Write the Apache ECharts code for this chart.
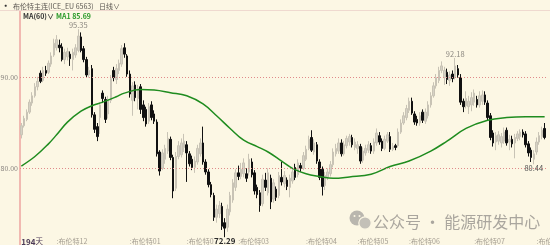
<!DOCTYPE html>
<html><head><meta charset="utf-8">
<script src="https://cdn.jsdelivr.net/npm/echarts@6/dist/echarts.min.js"></script>
<style>html,body{margin:0;padding:0;background:#fcf7e4}#c{width:550px;height:245px}</style>
</head><body><div id="c"></div>
<script>
const opens = [83.7,84.7,85.4,86.2,87.2,88.0,89.0,90.5,89.7,90.8,90.6,91.5,92.5,93.3,93.6,93.4,92.0,92.3,92.6,92.0,92.5,93.0,94.5,93.2,92.0,90.3,91.0,85.9,84.6,85.6,88.3,87.6,86.0,87.5,90.8,89.8,90.8,91.5,93.3,92.4,
90.4,87.5,89.2,87.7,89.0,87.0,86.5,85.2,87.0,86.0,85.1,81.8,80.0,81.0,81.9,83.2,81.2,77.8,81.3,81.5,82.3,82.6,81.6,81.0,80.1,80.7,81.6,82.8,80.7,79.6,
78.2,77.0,74.6,75.0,75.8,74.0,73.5,75.2,76.5,77.9,79.5,79.1,79.4,79.4,79.6,80.7,79.5,77.9,77.3,76.1,78.7,77.3,78.9,76.6,77.7,77.0,79.0,78.3,78.7,77.9,
78.6,80.1,79.3,80.3,80.0,81.0,82.2,83.4,81.8,82.6,80.7,79.9,78.1,79.0,79.4,80.4,81.6,81.9,82.8,81.6,82.5,82.9,83.4,82.3,82.2,82.4,80.9,81.7,82.0,82.5,
81.9,82.8,83.6,83.0,82.2,83.0,83.5,82.1,82.5,82.5,84.0,85.0,85.6,86.4,87.4,86.0,85.4,85.0,86.2,85.2,85.8,87.0,88.0,89.1,89.7,
90.8,90.0,90.6,89.7,90.4,90.1,91.0,90.0,87.4,86.9,86.8,87.0,87.3,87.6,87.0,87.4,88.1,87.2,85.8,83.9,82.9,83.0,82.8,83.0,84.2,82.9,83.2,82.8,83.3,83.5,
84.0,83.8,82.7,82.0,81.0,81.8,82.9,83.5,84.4];
const closes = [84.7,85.5,86.2,87.3,88.0,89.0,89.6,89.6,90.8,90.5,91.6,92.4,93.8,94.2,93.3,92.0,92.8,92.9,92.1,92.8,93.3,94.6,93.0,92.0,90.3,90.8,85.9,84.3,83.5,87.0,87.7,85.4,87.6,89.9,90.0,91.0,91.6,93.2,92.6,90.4,
88.2,89.1,87.8,88.8,86.5,85.6,84.9,86.8,85.6,85.2,81.6,79.7,81.7,82.2,83.3,81.2,77.5,81.3,82.5,82.8,83.0,81.7,80.5,80.1,80.8,82.2,82.8,80.7,79.6,78.2,
77.1,74.6,75.5,75.9,73.6,73.4,75.5,77.0,78.4,79.5,79.1,79.9,80.6,78.9,81.0,79.3,77.5,77.1,75.9,78.8,77.9,79.5,76.3,78.4,76.8,79.2,78.5,79.2,78.0,78.9,
79.6,79.0,80.6,80.0,81.4,82.1,83.2,82.0,82.8,80.8,79.0,78.0,79.2,79.6,80.4,81.8,82.2,82.8,81.6,82.6,83.3,83.5,82.6,82.9,82.6,80.8,81.9,82.2,82.6,81.9,
82.9,83.9,82.9,82.2,83.2,83.7,82.1,82.4,82.3,84.0,85.0,85.8,86.6,87.4,86.1,85.1,85.0,85.8,85.3,86.2,87.0,88.0,89.1,90.0,90.8,
91.3,90.8,89.8,90.3,89.9,91.3,90.3,87.3,86.8,87.7,87.4,87.8,88.3,87.0,88.0,88.1,87.3,85.6,83.4,82.8,83.6,83.7,83.5,84.0,82.8,83.2,82.7,83.4,83.8,84.0,
83.7,82.6,81.7,81.2,81.6,82.9,83.6,84.2,83.4];
const lows = [83.3,84.5,85.2,86.0,86.9,87.8,88.6,89.4,89.5,90.2,90.4,91.2,92.3,93.0,92.8,91.8,91.5,91.9,91.3,90.8,92.2,92.8,92.8,91.7,90.0,90.0,85.6,83.9,83.0,83.8,87.2,85.0,85.5,87.2,89.6,89.3,90.4,91.2,92.2,90.1,
87.8,85.8,87.4,86.5,86.0,85.2,84.6,84.9,85.3,84.9,81.3,79.2,79.8,80.5,81.6,80.9,76.7,77.5,81.0,81.2,81.8,78.5,80.2,79.8,79.5,80.4,81.3,80.4,79.3,77.9,
76.8,74.2,74.0,74.5,73.2,72.29,73.0,74.8,76.2,77.5,78.7,78.8,79.0,78.5,79.2,79.0,77.1,76.7,75.2,75.8,77.5,77.0,75.5,76.2,76.4,76.7,78.1,77.9,77.6,76.8,
78.3,78.7,79.0,79.6,79.8,80.8,82.0,81.8,81.5,80.5,78.7,77.0,77.6,78.7,79.1,80.1,81.3,81.6,81.3,81.4,82.2,82.5,82.3,82.0,81.6,80.5,80.6,81.4,81.7,81.6,
81.6,82.5,82.6,81.9,82.0,82.8,81.8,81.9,82.0,82.3,83.8,84.8,85.3,86.1,85.9,84.8,84.7,84.7,85.0,84.9,85.5,86.7,87.8,88.8,89.4,
90.5,89.2,89.3,89.1,89.5,89.8,90.0,87.0,86.2,86.6,86.0,86.3,86.9,86.7,86.7,87.0,87.0,85.3,83.1,82.4,82.0,82.6,82.3,82.7,82.5,82.0,82.3,81.1,83.0,83.1,
83.4,82.3,81.3,80.7,80.44,81.5,82.6,83.2,83.2];
const highs = [85.0,85.8,86.5,87.6,88.4,89.4,90.1,90.8,91.2,91.3,91.9,92.8,94.3,94.7,94.2,93.8,93.2,93.3,92.9,93.2,93.7,95.35,95.0,93.5,92.3,91.2,91.4,86.2,85.0,87.3,88.6,87.9,88.0,90.3,91.2,91.5,92.0,93.6,93.8,92.6,
90.8,89.5,89.6,89.2,89.3,87.5,86.8,87.2,87.4,86.4,85.4,82.0,82.1,82.6,84.0,83.5,81.5,81.8,83.0,83.3,83.8,83.0,81.9,81.4,81.3,82.6,83.3,84.6,81.0,79.9,
78.5,77.3,76.0,76.4,76.2,74.5,76.0,77.4,78.8,79.9,80.3,80.6,81.1,80.0,81.6,81.1,79.8,78.2,77.6,79.3,79.5,80.0,79.3,78.8,78.0,79.6,80.7,79.7,79.0,79.3,
80.0,80.5,81.0,80.6,81.8,82.5,83.6,84.2,83.2,82.9,81.0,80.2,79.6,80.0,80.8,82.2,82.7,83.3,83.2,83.0,83.6,83.8,83.7,83.3,83.0,82.7,82.3,82.6,83.0,82.8,
83.3,84.4,84.0,83.3,83.6,84.0,84.0,82.8,82.7,84.4,85.4,86.2,87.0,87.8,87.8,86.3,85.8,86.2,86.5,86.6,87.4,88.4,89.5,90.4,91.2,
91.8,91.2,91.0,90.7,90.8,92.18,91.4,90.4,87.7,88.5,88.0,88.4,88.7,88.0,88.5,88.6,88.5,87.5,86.1,84.2,84.0,84.1,83.9,84.5,84.5,83.7,83.6,83.8,84.1,84.3,
84.3,84.1,83.0,82.3,82.0,83.4,84.0,84.6,85.0];
const maIdx = [0,5,10,13,17,22,26,30,35,38,44,49,55,61,67,72,77,82,87,91,96,100,105,110,115,121,129,136,143,151,157,164,172,179,186,193];
const maVal = [80.25,81.3,82.7,83.7,85.1,86.3,86.9,87.3,87.9,88.3,88.7,88.65,88.35,88.0,87.1,85.8,84.4,83.1,82.4,81.8,80.8,80.0,79.4,79.1,78.9,79.05,79.35,80.2,80.8,81.9,83.0,84.4,85.3,85.6,85.7,85.7];
const maLast = 85.69;
const tickIdx = [0,13,40,61,80,105,124,143,167,190];
const tickText = ['194天',':布伦特12',':布伦特01',':布伦特02',':布伦特03',':布伦特04',':布伦特05',':布伦特06',':布伦特07',':布伦特08'];
const yLines = [80, 90];
const extremes = [{i:21,v:'h'},{i:160,v:'h'},{i:189,v:'l'},{i:75,v:'l'}];

const N = opens.length;
const cats = []; for (let i=0;i<N;i++) cats.push('');
tickIdx.forEach((t,k)=>{ cats[t]=tickText[k]; });
const candle = opens.map((o,i)=>[o, closes[i], lows[i], highs[i]]);
const ma = new Array(N).fill(null); maIdx.forEach((t,k)=>{ ma[t]=maVal[k]; });

const font = '"Noto Sans CJK SC", "Noto Sans", sans-serif';
const chart = echarts.init(document.getElementById('c'), null, {renderer:'canvas'});
chart.setOption({
  backgroundColor:'#fcf7e4',
  animation:false,
  textStyle:{fontFamily:font},
  grid:{left:20, right:4, top:12, bottom:6, containLabel:false, outerBoundsMode:'none'},
  xAxis:{type:'category', data:cats, boundaryGap:true,
    axisLine:{show:false}, axisTick:{show:false}, splitLine:{show:false},
    axisLabel:{interval:0, align:'left', margin:-2, fontSize:7, lineHeight:9, color:'#a39d92', fontFamily:font, hideOverlap:false,
      formatter:(v,i)=> i===0 ? '{b|194}{c|天}' : v,
      rich:{b:{fontWeight:'bold',fontSize:8,color:'#4b3a58'},c:{fontSize:7.5,color:'#4b3a58'}}}},
  yAxis:{type:'value', min:72.2, max:97.25, axisLine:{show:false}, axisTick:{show:false}, axisLabel:{show:false}, splitLine:{show:false}},
  series:[
    {type:'candlestick', data:candle, barWidth:2, clip:false,
     itemStyle:{color:'#d6d2c5', color0:'#111111', borderColor:'#c8c3b5', borderColor0:'#111111', borderWidth:1},
     markLine:{symbol:'none', silent:true, animation:false,
       lineStyle:{type:[1,2], color:'#e08a8a', width:1},
       label:{position:'start', distance:2, fontSize:7, color:'#8a8580', formatter:p=>p.value.toFixed(2)},
       data: yLines.map(v=>({yAxis:v}))},
     markPoint:{symbol:'circle', symbolSize:0, silent:true, animation:false,
       data: extremes.map(e=>{
         const val = e.v==='h' ? highs[e.i] : lows[e.i];
         const isLow = e.v==='l';
         const big = (e.i===75);
         return {coord:[e.i, val], value:val,
           label:{show:true, position:'inside', offset:[0, big?3:(isLow?4:-4)],
             formatter: val.toFixed(2), fontSize: big?8:7.5, fontWeight: big?'bold':'normal',
             color: big?'#2a2a2a':(isLow?'#555':'#8c8880'), fontFamily:font,
             backgroundColor: big?'#fcf7e4':'transparent'}};
       })}},
    {type:'line', data:ma, connectNulls:true, smooth:0.4, showSymbol:false, symbol:'none',
     lineStyle:{color:'#1f8c1f', width:1.5}, z:3}
  ],
  graphic:[
    {type:'line', shape:{x1:0,y1:10.5,x2:550,y2:10.5}, style:{stroke:'#efd9cf', lineWidth:1}},
    {type:'line', shape:{x1:20,y1:11,x2:20,y2:245}, style:{stroke:'#f1b9b1', lineWidth:2}},
    {type:'text', x:4, y:6, style:{text:'●', fontSize:5, fill:'#333', verticalAlign:'middle'}},
    {type:'text', x:13, y:6, style:{text:'布伦特主连(ICE_EU 6563)', fontSize:7, fill:'#5a5650', fontFamily:font, verticalAlign:'middle'}},
    {type:'text', x:99, y:6, style:{text:'日线∨', fontSize:7, fill:'#5a5650', fontFamily:font, verticalAlign:'middle'}},
    {type:'text', x:23, y:16.5, style:{text:'MA(60)∨', fontSize:7, fontWeight:'bold', fill:'#333', fontFamily:font, verticalAlign:'middle'}},
    {type:'text', x:56, y:16.5, style:{text:'MA1 '+maLast.toFixed(2), fontSize:7, fontWeight:'bold', fill:'#2a9a2a', fontFamily:font, verticalAlign:'middle'}},
    {type:'circle', shape:{cx:357,cy:218,r:7.5}, style:{fill:'#b9b6ae'}},
    {type:'circle', shape:{cx:365,cy:223,r:6.2}, style:{fill:'#c3c0b8', stroke:'#fcf7e4', lineWidth:1.2}},
    {type:'circle', shape:{cx:354.5,cy:216,r:1}, style:{fill:'#fcf7e4'}},
    {type:'circle', shape:{cx:359.5,cy:216,r:1}, style:{fill:'#fcf7e4'}},
    {type:'text', x:373, y:222, style:{text:'公众号 · 能源研发中心', fontSize:16, fill:'#aaa69e', fontFamily:font, verticalAlign:'middle'}}
  ]
});
</script></body></html>
